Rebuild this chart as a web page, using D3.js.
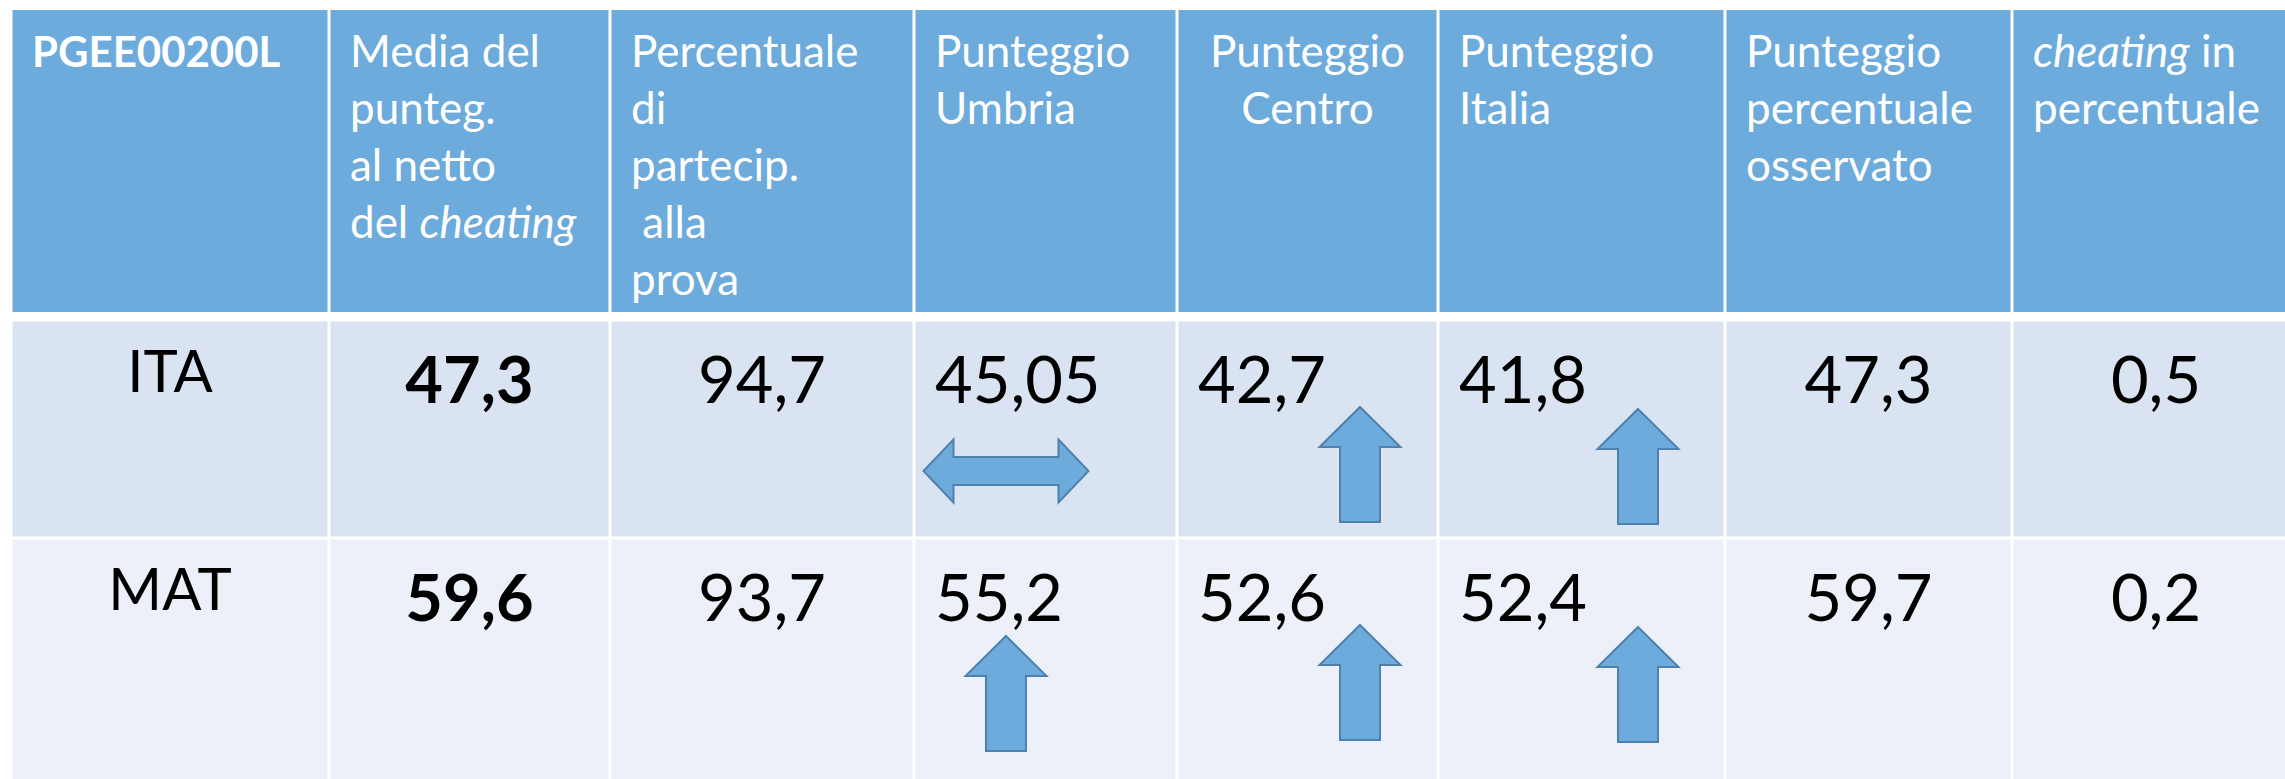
<!DOCTYPE html>
<html>
<head>
<meta charset="utf-8">
<script src="https://cdn.jsdelivr.net/npm/d3@7"></script>
<style>
body { margin: 0; background: #fff; }
svg text { font-family: Lato, "Open Sans", sans-serif; }
</style>
</head>
<body>
<svg id="chart"></svg>
<script>
// intestazioni, una riga per elemento; *testo* = corsivo
const headerLines = [
    ["PGEE00200L"],
    ["Media del", "punteg.", "al netto", "del *cheating*"],
    ["Percentuale", "di", "partecip.", "\u00a0alla", "prova"],
    ["Punteggio", "Umbria"],
    ["Punteggio", "Centro"],
    ["Punteggio", "Italia"],
    ["Punteggio", "percentuale", "osservato"],
    ["*cheating* in", "percentuale"]
]
const subjects = ["ITA", "MAT"]
const mediaNetto = [47.3, 59.6]
const partecipazione = [94.7, 93.7]
const puntUmbria = [45.05, 55.2]
const puntCentro = [42.7, 52.6]
const puntItalia = [41.8, 52.4]
const puntOsservato = [47.3, 59.7]
const cheatingPerc = [0.5, 0.2]
// confronto con il riferimento: "up" = superiore, "eq" = in linea
const confrUmbria = ["eq", "up"]
const confrCentro = ["up", "up"]
const confrItalia = ["up", "up"]

var W = 2285, H = 779
var svg = d3.select("#chart").attr("width", W).attr("height", H)

// layout
var colWidths = [318, 281, 304, 263, 261, 287, 287, 288]
var colLefts = d3.cumsum([11].concat(colWidths)).slice(0, -1)
var x = d3.scaleOrdinal().domain(d3.range(8)).range(colLefts)
var rowKeys = ["head"].concat(subjects)
var y = d3.scaleOrdinal().domain(rowKeys).range([10, 320, 538])
var rowH = d3.scaleOrdinal().domain(rowKeys).range([302, 218, 250])
var fill = d3.scaleOrdinal().domain(rowKeys).range(["#6CABDC", "#DAE3F1", "#ECF1F9"])
var gap = 3
var pad = 21
var headerCenter = [4]
var bodyLeft = [3, 4, 5]

var fmt = v => String(v).replace(".", ",")

// celle
rowKeys.forEach(r => {
    svg.append("g").selectAll("rect")
        .data(d3.range(8))
        .enter().append("rect")
        .attr("x", c => x(c) + gap / 2)
        .attr("y", y(r) + (r === "head" ? 0 : gap / 2))
        .attr("width", c => colWidths[c] - gap)
        .attr("height", rowH(r) - (r === "head" ? 0 : gap))
        .attr("fill", fill(r))
})

// testo intestazione con tratti in corsivo
function addLine(sel, str) {
    str.split(/(\*[^*]+\*)/).filter(s => s.length).forEach(part => {
        var it = part.startsWith("*")
        sel.append("tspan")
            .text(it ? part.slice(1, -1) : part)
            .style("font-style", it ? "italic" : "normal")
    })
}

var head = svg.append("g")
headerLines.forEach((lines, c) => {
    var centered = headerCenter.includes(c)
    lines.forEach((ln, i) => {
        var t = head.append("text")
            .attr("x", centered ? x(c) + colWidths[c] / 2 : x(c) + pad)
            .attr("y", y("head") + 57 + i * 57)
            .attr("text-anchor", centered ? "middle" : "start")
            .attr("fill", "#fff")
            .attr("font-size", c === 0 ? 42 : 44)
            .attr("font-weight", c === 0 ? "bold" : "normal")
        addLine(t, ln)
    })
})

// corpo
var rows = subjects.map((s, i) => [s, mediaNetto[i], partecipazione[i], puntUmbria[i],
    puntCentro[i], puntItalia[i], puntOsservato[i], cheatingPerc[i]])

rows.forEach((vals, ri) => {
    var r = subjects[ri]
    svg.append("g").selectAll("text")
        .data(vals)
        .enter().append("text")
        .attr("x", (d, c) => bodyLeft.includes(c) ? x(c) + pad : x(c) + colWidths[c] / 2)
        .attr("y", (d, c) => y(r) + (c === 0 ? 72 : 83))
        .attr("text-anchor", (d, c) => bodyLeft.includes(c) ? "start" : "middle")
        .attr("font-size", (d, c) => c === 0 ? 58 : 65)
        .attr("font-weight", (d, c) => c === 1 ? "bold" : "normal")
        .attr("fill", "#000")
        .text((d, c) => c === 0 ? d : fmt(d))
})

// frecce
function upArrow(cx, top) {
    var w = 81, h = 115, hh = 40, sw = 40
    return "M" + cx + "," + top +
        "L" + (cx + w / 2) + "," + (top + hh) +
        "L" + (cx + sw / 2) + "," + (top + hh) +
        "L" + (cx + sw / 2) + "," + (top + h) +
        "L" + (cx - sw / 2) + "," + (top + h) +
        "L" + (cx - sw / 2) + "," + (top + hh) +
        "L" + (cx - w / 2) + "," + (top + hh) + "Z"
}
function bothArrow(cx, cy) {
    var w = 165, h = 63, hl = 30, sw = 28
    var l = cx - w / 2, r = cx + w / 2
    return "M" + l + "," + cy +
        "L" + (l + hl) + "," + (cy - h / 2) +
        "L" + (l + hl) + "," + (cy - sw / 2) +
        "L" + (r - hl) + "," + (cy - sw / 2) +
        "L" + (r - hl) + "," + (cy - h / 2) +
        "L" + r + "," + cy +
        "L" + (r - hl) + "," + (cy + h / 2) +
        "L" + (r - hl) + "," + (cy + sw / 2) +
        "L" + (l + hl) + "," + (cy + sw / 2) +
        "L" + (l + hl) + "," + (cy + h / 2) + "Z"
}

var arrowCols = [[3, confrUmbria], [4, confrCentro], [5, confrItalia]]
var arrowDx = {3: 92, 4: 183, 5: 200}
var arrowDy = {3: 98, 4: 87, 5: 89}
var arrows = []
arrowCols.forEach(([c, arr]) => {
    arr.forEach((dir, ri) => arrows.push({c: c, r: subjects[ri], dir: dir}))
})

svg.append("g").selectAll("path")
    .data(arrows)
    .enter().append("path")
    .attr("d", d => d.dir === "eq"
        ? bothArrow(x(d.c) + arrowDx[d.c], y(d.r) + 151)
        : upArrow(x(d.c) + arrowDx[d.c], y(d.r) + arrowDy[d.c]))
    .attr("fill", "#6CABDC")
    .attr("stroke", "#4F81AE")
    .attr("stroke-width", 2)
</script>
</body>
</html>
